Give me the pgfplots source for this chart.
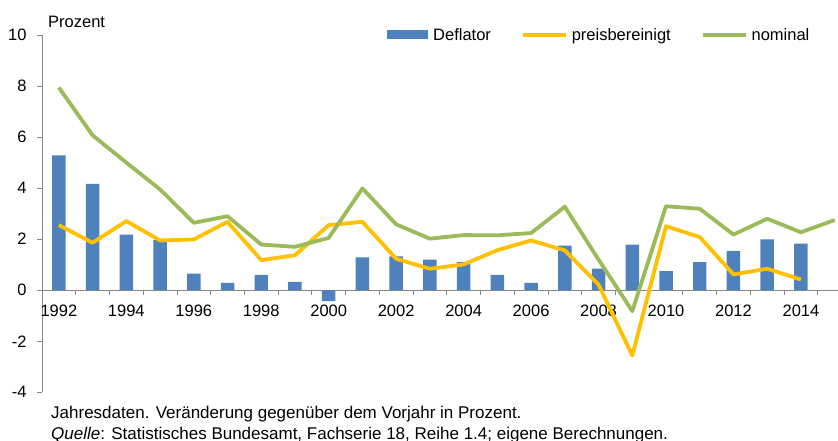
\documentclass[border=0pt]{standalone}
\usepackage{fontspec}
\setmainfont{Liberation Sans}
\usepackage{pgfplots}
\pgfplotsset{compat=1.18}
\definecolor{defl}{RGB}{79,129,189}
\definecolor{preis}{RGB}{255,192,0}
\definecolor{nom}{RGB}{155,187,89}
\definecolor{axgray}{RGB}{134,134,134}
\newcommand{\chartfont}{\fontsize{16.5bp}{19bp}\selectfont}

\pgfplotstableread{
year defl  real  nom
1992 5.28  2.55  7.94
1993 4.17  1.86  6.07
1994 2.18  2.71  5.00
1995 1.97  1.95  3.95
1996 0.65  1.99  2.64
1997 0.29  2.68  2.90
1998 0.60  1.18  1.79
1999 0.33  1.37  1.70
2000 -0.43 2.55  2.05
2001 1.29  2.68  3.99
2002 1.33  1.23  2.58
2003 1.20  0.84  2.02
2004 1.10  1.01  2.16
2005 0.60  1.57  2.15
2006 0.29  1.95  2.24
2007 1.75  1.56  3.27
2008 0.85  0.22  1.20
2009 1.79  -2.56 -0.82
2010 0.75  2.51  3.29
2011 1.10  2.08  3.19
2012 1.54  0.62  2.18
2013 1.99  0.84  2.80
2014 1.83  0.42  2.27
}\gdpdata

\begin{document}
\begin{tikzpicture}
\begin{axis}[
  at={(42bp,48.7bp)}, anchor=south west,
  scale only axis, width=795.7bp, height=357.3bp,
  xmin=1991.5, xmax=2015.09, ymin=-4, ymax=10,
  axis y line*=left, axis x line*=middle,
  axis line style={axgray, line width=0.8bp},
  every tick/.style={axgray, line width=0.8bp},
  tick align=outside, major tick length=5bp,
  xtick={1992.5,1993.5,...,2014.5}, xticklabels={},
  extra x ticks={1992,1994,...,2014},
  extra x tick labels={1992,1994,1996,1998,2000,2002,2004,2006,2008,2010,2012,2014},
  extra x tick style={major tick length=0pt},
  xticklabel style={yshift=-11bp},
  ytick={-4,-2,...,10},
  yticklabel style={xshift=-7bp},
  tick label style={font=\chartfont, text=black},
  /pgf/number format/assume math mode=true,
  legend columns=3,
  legend style={draw=none, fill=none, at={(rel axis cs:0.4336,1)}, anchor=west,
    font=\chartfont, inner sep=0pt,
    /tikz/every even column/.append style={column sep=28bp}},
  clip=false,
]
\addplot[fill=defl, draw=none, ybar, bar width=0.4, bar shift=0pt,
  legend image code/.code={\fill[defl] (0bp,-4.5bp) rectangle (41bp,4.5bp); \path (44bp,0bp);}]
  table[x=year, y=defl] {\gdpdata};
\addlegendentry{Deflator}
\addplot[preis, line width=3.8bp, line join=round,
  legend image code/.code={\draw[preis, line width=3.8bp] (0bp,0bp) -- (43bp,0bp); \path (45bp,0bp);}]
  table[x=year, y=real] {\gdpdata};
\addlegendentry{preisbereinigt}
\addplot[nom, line width=3.8bp, line join=round,
  legend image code/.code={\draw[nom, line width=3.8bp] (0bp,0bp) -- (43bp,0bp); \path (45bp,0bp);}]
  table[x=year, y=nom] {
year nom
1992 7.94
1993 6.07
1994 5.00
1995 3.95
1996 2.64
1997 2.90
1998 1.79
1999 1.70
2000 2.05
2001 3.99
2002 2.58
2003 2.02
2004 2.16
2005 2.15
2006 2.24
2007 3.27
2008 1.20
2009 -0.82
2010 3.29
2011 3.19
2012 2.18
2013 2.80
2014 2.27
2015 2.75
};
\addlegendentry{nominal}
\end{axis}
\node[anchor=base west, font=\chartfont, inner sep=0pt] at (48bp,413bp) {Prozent};
\node[anchor=base west, font=\fontsize{17bp}{19bp}\selectfont, inner sep=0pt] at (51bp,23bp) {Jahresdaten. Veränderung gegenüber dem Vorjahr in Prozent.};
\node[anchor=base west, font=\fontsize{17bp}{19bp}\selectfont, inner sep=0pt] at (51bp,2bp) {\textit{Quelle}: Statistisches Bundesamt, Fachserie 18, Reihe 1.4; eigene Berechnungen.};
\pgfresetboundingbox
\path[use as bounding box] (0,0) rectangle (838bp,441bp);
\end{tikzpicture}
\end{document}
